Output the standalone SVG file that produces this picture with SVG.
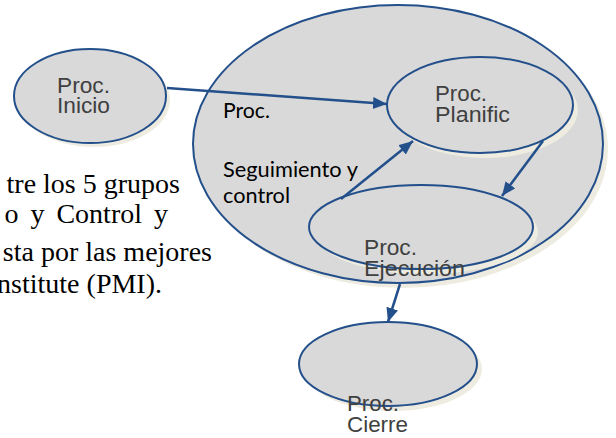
<svg xmlns="http://www.w3.org/2000/svg" width="616" height="438" viewBox="0 0 616 438">
<style>
.shadow{fill:#eeece1;stroke:none}
.node{fill:#d9d9d9;stroke:#234f8b;stroke-width:2}
.ntext{font-family:"Liberation Sans",Arial,sans-serif;font-size:22px;fill:#404040}
.lbl{font-family:Lato,"Open Sans",sans-serif;font-size:21px;fill:#000}
.body{font-family:"Liberation Serif","Times New Roman",serif;font-size:28px;fill:#000}
.conn{stroke:#234f8b;stroke-width:2.5;fill:none;marker-end:url(#ah)}
</style>
<defs>
<marker id="ah" markerUnits="userSpaceOnUse" markerWidth="16" markerHeight="14" refX="14" refY="6" orient="auto">
<path d="M0,0 L14,6 L0,12 Z" fill="#234f8b"/>
</marker>
</defs>
<rect width="616" height="438" fill="#ffffff"/>
<g id="body-text">
<text class="body" x="180" y="193" text-anchor="end">tre los 5 grupos</text>
<text class="body" x="168" y="223" text-anchor="end" word-spacing="5">o y Control y</text>
<text class="body" x="212" y="261" text-anchor="end">sta por las mejores</text>
<text class="body" x="162" y="293" text-anchor="end">nstitute (PMI).</text>
</g>
<g id="grupo-seguimiento">
<ellipse class="shadow" cx="403" cy="149" rx="205" ry="139"/>
<ellipse class="node" cx="398" cy="144" rx="205" ry="139"/>
<text class="lbl" x="223" y="118" textLength="47" lengthAdjust="spacingAndGlyphs">Proc.</text>
<text class="lbl" x="223" y="177" textLength="135" lengthAdjust="spacingAndGlyphs">Seguimiento y</text>
<text class="lbl" x="223" y="203" textLength="67" lengthAdjust="spacingAndGlyphs">control</text>
</g>
<g id="inicio">
<ellipse class="shadow" cx="94" cy="100" rx="76" ry="47"/>
<ellipse class="node" cx="90" cy="96" rx="76" ry="47"/>
<text class="ntext" x="57" y="93" textLength="53" lengthAdjust="spacingAndGlyphs">Proc.</text>
<text class="ntext" x="57" y="113" textLength="53" lengthAdjust="spacingAndGlyphs">Inicio</text>
</g>
<g id="planific">
<ellipse class="shadow" cx="485" cy="110" rx="93" ry="48"/>
<ellipse class="node" cx="480" cy="105" rx="93" ry="48"/>
<text class="ntext" x="435" y="101" textLength="52" lengthAdjust="spacingAndGlyphs">Proc.</text>
<text class="ntext" x="435" y="122" textLength="75" lengthAdjust="spacingAndGlyphs">Planific</text>
</g>
<g id="ejecucion">
<ellipse class="shadow" cx="426" cy="232" rx="112" ry="42"/>
<ellipse class="node" cx="421" cy="227" rx="112" ry="42"/>
<text class="ntext" x="364" y="255" textLength="53" lengthAdjust="spacingAndGlyphs">Proc.</text>
<text class="ntext" x="364" y="276" textLength="101" lengthAdjust="spacingAndGlyphs">Ejecución</text>
</g>
<g id="cierre">
<ellipse class="shadow" cx="393" cy="369" rx="89" ry="42"/>
<ellipse class="node" cx="388" cy="364" rx="89" ry="42"/>
<text class="ntext" x="347" y="411" textLength="52" lengthAdjust="spacingAndGlyphs">Proc.</text>
<text class="ntext" x="347" y="432" textLength="61" lengthAdjust="spacingAndGlyphs">Cierre</text>
</g>
<g id="connectors">
<path class="conn" d="M167,88 L387,104"/>
<path class="conn" d="M341,199 L413,141"/>
<path class="conn" d="M543,141 L502,196"/>
<path class="conn" d="M400,284 L388,322"/>
</g>
</svg>
